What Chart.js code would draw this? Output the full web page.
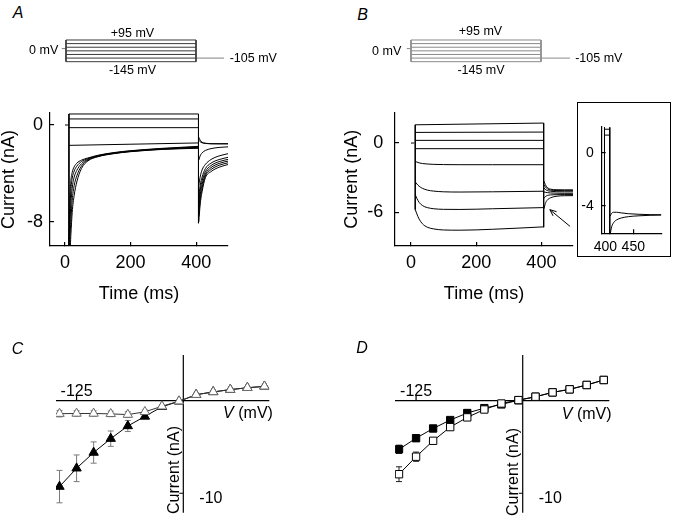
<!DOCTYPE html>
<html>
<head>
<meta charset="utf-8">
<script src="https://cdn.jsdelivr.net/npm/chart.js@4.4.1/dist/chart.umd.min.js"></script>
<style>
  html, body { margin: 0; padding: 0; background: #fff; }
  #fig { position: relative; width: 674px; height: 527px; overflow: hidden;
         font-family: "Liberation Sans", Arial, Helvetica, sans-serif; color: #000; }
  #fig canvas { position: absolute; }
  .lbl { position: absolute; white-space: nowrap; line-height: 1; transform: translate(-50%, -50%); z-index: 3; }
  .letter { font-style: italic; font-size: 16px; }
  .proto { font-size: 12.5px; }
  .iv { font-size: 16px; }
  .rot { transform: translate(-50%, -50%) rotate(-90deg); }
  #insetBox { position: absolute; left: 577px; top: 102px; width: 94px; height: 155px;
              box-sizing: border-box; border: 1px solid #000; }
</style>
</head>
<body>
<div id="fig">
  <div class="lbl letter" style="left:18px;top:12.8px">A</div>
  <div class="lbl letter" style="left:362.5px;top:14.7px">B</div>
  <div class="lbl letter" style="left:17.5px;top:348.8px">C</div>
  <div class="lbl letter" style="left:362px;top:348px">D</div>

  <div class="lbl proto" style="left:132.5px;top:33px">+95 mV</div>
  <div class="lbl proto" style="left:132.5px;top:69.5px">-145 mV</div>
  <div class="lbl proto" style="left:43.7px;top:50px">0 mV</div>
  <div class="lbl proto" style="left:253.3px;top:58px">-105 mV</div>

  <div class="lbl proto" style="left:480.5px;top:31px">+95 mV</div>
  <div class="lbl proto" style="left:481px;top:69.5px">-145 mV</div>
  <div class="lbl proto" style="left:386.7px;top:51px">0 mV</div>
  <div class="lbl proto" style="left:598.8px;top:57.5px">-105 mV</div>

  <div class="lbl iv" style="left:248px;top:413px"><i>V</i> (mV)</div>
  <div class="lbl iv rot" style="left:173.7px;top:470px">Current (nA)</div>
  <div class="lbl iv" style="left:586.7px;top:413.5px"><i>V</i> (mV)</div>
  <div class="lbl iv rot" style="left:513.3px;top:471.7px">Current (nA)</div>

  <div id="insetBox"></div>
</div>
<script>
(function () {
  'use strict';

  // ---- voltage protocol (mV / ms) ----
  const protoLevels = [-145, -105, -65, -25, 15, 55, 95];
  const protoStep = [0, 400];
  const protoHold = -105;
  const protoHoldEndA = 486;
  const protoHoldEndB = 489;
  const protoZeroTick = [-13, 0];

  // ---- panel A traces (ms / nA) ----
  const aTicksX = [0, 200, 400];
  const aTicksY = [0, -8];
  const aHoldT = [0, 9];
  const aHoldI = [0, 0];
  const aEdgeT = [12, 407];
  const aEdgeTop = [0.91, 0.91];
  const aEdgeBottom = [-10.5, -8.1];
  const aFlatT = [12, 407];
  const aFlat = [
    [0.91, 0.91],
    [0.5, 0.5],
    [-0.22, -0.22],
    [-1.68, -1.48],
  ];
  const aStepT = [12, 15, 18, 22, 28, 36, 50, 70, 100, 150, 200, 300, 407];
  const aDecay = [
    [-10.5, -6.0, -4.6, -3.9, -3.45, -3.15, -2.9, -2.72, -2.5, -2.27, -2.12, -1.92, -1.76],
    [-10.5, -7.0, -5.4, -4.4, -3.8, -3.4, -3.02, -2.78, -2.53, -2.3, -2.14, -1.95, -1.8],
    [-10.5, -8.2, -6.5, -5.2, -4.3, -3.75, -3.2, -2.84, -2.56, -2.32, -2.16, -1.97, -1.84],
    [-10.5, -9.4, -7.8, -6.2, -5.0, -4.2, -3.4, -2.9, -2.59, -2.34, -2.18, -1.99, -1.88],
    [-10.5, -10.5, -9.0, -7.2, -5.8, -4.7, -3.6, -2.96, -2.62, -2.36, -2.2, -2.01, -1.92],
  ];
  const aTailT = [408, 412, 418, 428, 445, 470, 500];
  const aTail = [
    [-1.0, -1.25, -1.42, -1.5, -1.54, -1.55, -1.55],
    [-1.25, -1.38, -1.47, -1.52, -1.55, -1.55, -1.55],
    [-2.9, -2.55, -2.3, -2.1, -1.95, -1.85, -1.8],
    [-5.0, -4.3, -3.7, -3.25, -2.85, -2.55, -2.35],
    [-6.0, -5.0, -4.3, -3.6, -3.15, -2.85, -2.65],
    [-6.5, -5.4, -4.6, -3.85, -3.35, -3.02, -2.82],
    [-7.0, -5.8, -4.9, -4.05, -3.52, -3.17, -2.96],
    [-7.5, -6.2, -5.2, -4.2, -3.68, -3.32, -3.1],
    [-8.0, -6.6, -5.5, -4.35, -3.85, -3.48, -3.24],
  ];

  // ---- panel B traces ----
  const bTicksX = [0, 200, 400];
  const bTicksY = [0, -6];
  const bHoldT = [0, 10];
  const bHoldI = [0, 0];
  const bEdgeT = [13, 407];
  const bEdgeTop = [1.58, 1.73];
  const bEdgeBottom = [-5.77, -7.3];
  const bFlatT = [13, 407];
  const bFlat = [
    [1.58, 1.73],
    [0.92, 0.95],
    [0.23, 0.23],
    [-0.49, -0.49],
  ];
  const bStepT = [13, 18, 25, 35, 50, 70, 100, 150, 250, 407];
  const bDecay = [
    [-1.59, -1.65, -1.72, -1.78, -1.82, -1.85, -1.87, -1.88, -1.88, -1.88],
    [-3.37, -3.55, -3.75, -3.93, -4.08, -4.17, -4.23, -4.25, -4.23, -4.18],
    [-4.47, -4.8, -5.15, -5.42, -5.6, -5.7, -5.75, -5.76, -5.7, -5.6],
    [-5.77, -6.15, -6.6, -7.0, -7.3, -7.45, -7.54, -7.56, -7.48, -7.27],
  ];
  const bTailT = [408, 412, 418, 428, 445, 470, 500];
  const bTail = [
    [-3.3, -3.6, -3.85, -4.0, -4.05, -4.06, -4.06],
    [-3.6, -3.8, -3.97, -4.08, -4.12, -4.13, -4.13],
    [-3.9, -4.02, -4.12, -4.18, -4.22, -4.23, -4.23],
    [-4.25, -4.27, -4.3, -4.33, -4.35, -4.36, -4.36],
    [-4.8, -4.65, -4.55, -4.5, -4.48, -4.47, -4.47],
    [-5.7, -5.25, -4.95, -4.75, -4.62, -4.57, -4.56],
  ];
  const bArrowTail = [488, -7.23];
  const bArrowTip = [426, -5.78];

  // ---- inset of B ----
  const iTicksX = [400, 450];
  const iTicksY = [0, -4];
  const iBarT = [390, 401];
  const iBarTop = [1.9, 1.9];
  const iBarBottom = [-6.1, -6.1];
  const iTopT = [390, 401];
  const iTop = [[1.76, 1.76], [1.32, 1.32]];
  const iTailT = [402, 405, 409, 415, 425, 440, 460, 485, 508];
  const iTail = [
    [-6.1, -5.55, -5.25, -5.05, -4.9, -4.8, -4.74, -4.7, -4.68],
    [-4.75, -4.55, -4.47, -4.47, -4.52, -4.58, -4.62, -4.65, -4.66],
  ];

  // ---- I-V curves (mV / nA) ----
  const ivV = [-145, -125, -105, -85, -65, -45, -25, -5, 15, 35, 55, 75, 95];
  const cTicksX = [-125];
  const cTicksY = [-10];
  const cFilled = [-9.28, -7.3, -5.6, -4.1, -2.73, -1.7, -0.65, -0.07, 0.65, 0.95, 1.2, 1.4, 1.55];
  const cFilledErr = [1.75, 1.44, 1.15, 0.83, 0.6, 0.2, 0.1, 0, 0, 0, 0, 0, 0];
  const cOpen = [-1.4, -1.38, -1.38, -1.42, -1.5, -1.2, -0.6, -0.05, 0.65, 0.95, 1.2, 1.4, 1.55];
  const cOpenErr = [0.35, 0.3, 0.3, 0.3, 0.3, 0.2, 0.1, 0, 0, 0, 0, 0, 0];
  const dFilled = [-5.25, -4.05, -3.0, -2.09, -1.33, -0.8, -0.4, 0.05, 0.43, 0.9, 1.23, 1.7, 2.24];
  const dFilledErr = [0.45, 0.3, 0.15, 0.1, 0.1, 0, 0, 0, 0, 0, 0, 0, 0];
  const dOpen = [-7.94, -6.05, -4.33, -2.85, -1.8, -0.95, -0.3, 0.07, 0.43, 0.9, 1.23, 1.7, 2.24];
  const dOpenErr = [0.8, 0.5, 0.2, 0.15, 0.1, 0, 0, 0, 0, 0, 0, 0, 0];

  const FONT = '"Liberation Sans", Arial, Helvetica, sans-serif';
  Chart.defaults.font.family = FONT;
  Chart.defaults.color = '#000';

  function canvasAt(left, top, w, h) {
    const c = document.createElement('canvas');
    c.width = w; c.height = h;
    c.style.left = left + 'px'; c.style.top = top + 'px';
    c.style.width = w + 'px'; c.style.height = h + 'px';
    document.getElementById('fig').appendChild(c);
    return c;
  }

  function pts(xs, ys) { return xs.map((x, i) => ({ x, y: ys[i] })); }

  function lines(xs, list, color, smooth) {
    return list.map(ys => ({
      data: pts(xs, ys), borderColor: color, borderWidth: 1, pointRadius: 0,
      cubicInterpolationMode: smooth ? 'monotone' : 'default', tension: 0,
    }));
  }

  function verticals(ts, tops, bottoms, color) {
    return ts.map((t, i) => ({
      data: [{ x: t, y: tops[i] }, { x: t, y: bottoms[i] }],
      borderColor: color, borderWidth: 1, pointRadius: 0,
    }));
  }

  function errorBars(xs, ys, errs, color) {
    return xs.map((x, i) => ({
      data: [{ x, y: ys[i] - errs[i] }, { x, y: ys[i] + errs[i] }],
      borderColor: color, borderWidth: 1, pointStyle: 'line', pointRadius: 3,
      pointBorderColor: color, pointBorderWidth: 1, order: 3,
    })).filter((d, i) => errs[i] > 0);
  }

  function markers(xs, ys, style, fill, edge, lineColor, r, order) {
    return {
      data: pts(xs, ys), borderColor: lineColor, borderWidth: 1,
      pointStyle: style, pointRadius: r, pointBackgroundColor: fill,
      pointBorderColor: edge, pointBorderWidth: 1, order,
    };
  }

  function baseOptions(pad, scales) {
    return {
      responsive: false, animation: false, devicePixelRatio: 1, events: [],
      layout: { padding: pad },
      plugins: { legend: { display: false }, tooltip: { enabled: false } },
      scales,
    };
  }

  function hiddenScales(xr, yr) {
    return {
      x: { type: 'linear', min: xr[0], max: xr[1], display: false },
      y: { type: 'linear', min: yr[0], max: yr[1], display: false },
    };
  }

  // box axes with inward ticks (A, B, inset)
  function sideAxes(o) {
    const grid = () => ({ drawOnChartArea: false, drawTicks: true, tickLength: -4, color: '#000', lineWidth: 1.2 });
    const border = () => ({ display: true, color: '#000', width: 1.2 });
    const title = (text, pad) => text
      ? { display: true, text, color: '#000', font: { size: 18 }, padding: pad }
      : { display: false };
    const xTicks = { font: { size: o.fs }, color: '#000', padding: o.xPad, maxRotation: 0, autoSkip: false };
    if (o.xLabel) xTicks.callback = o.xLabel;
    return {
      x: {
        type: 'linear', min: o.x[0], max: o.x[1], grid: grid(), border: border(),
        afterBuildTicks: s => { s.ticks = o.xTicks.map(v => ({ value: v })); },
        afterFit: s => { s.height = o.xh; s.paddingLeft = 0; s.paddingRight = 0; },
        ticks: xTicks,
        title: title(o.xTitle, { top: 0, bottom: o.xTitlePad }),
      },
      y: {
        type: 'linear', min: o.y[0], max: o.y[1], grid: grid(), border: border(),
        afterBuildTicks: s => { s.ticks = o.yTicks.map(v => ({ value: v })); },
        afterFit: s => { s.width = o.yw; s.paddingTop = 0; s.paddingBottom = 0; },
        ticks: { font: { size: o.fs }, color: '#000', padding: o.yPad, autoSkip: false },
        title: title(o.yTitle, { top: o.yTitlePad, bottom: 0 }),
      },
    };
  }

  // axes crossing at the origin (C, D)
  function crossAxes(xTicks, yTicks) {
    return {
      id: 'crossAxes',
      beforeDatasetsDraw(chart) {
        const { ctx, chartArea: a, scales: { x, y } } = chart;
        const x0 = x.getPixelForValue(0), y0 = y.getPixelForValue(0);
        ctx.save();
        ctx.strokeStyle = '#000'; ctx.lineWidth = 1.2;
        ctx.beginPath();
        ctx.moveTo(a.left, y0); ctx.lineTo(a.right, y0);
        ctx.moveTo(x0, a.top); ctx.lineTo(x0, a.bottom);
        xTicks.forEach(v => { const p = x.getPixelForValue(v); ctx.moveTo(p, y0); ctx.lineTo(p, y0 - 5); });
        yTicks.forEach(v => { const p = y.getPixelForValue(v); ctx.moveTo(x0, p); ctx.lineTo(x0 - 4, p); });
        ctx.stroke();
        ctx.fillStyle = '#000';
        ctx.font = '16px ' + FONT;
        ctx.textAlign = 'center'; ctx.textBaseline = 'alphabetic';
        xTicks.forEach(v => ctx.fillText(String(v), x.getPixelForValue(v), y0 - 5));
        ctx.textAlign = 'left'; ctx.textBaseline = 'middle';
        yTicks.forEach(v => ctx.fillText(String(v), x0 + 16, y.getPixelForValue(v) + 5));
        ctx.restore();
      },
    };
  }

  function arrow(tail, tip) {
    return {
      id: 'arrow',
      afterDatasetsDraw(chart) {
        const { ctx, scales: { x, y } } = chart;
        const x1 = x.getPixelForValue(tail[0]), y1 = y.getPixelForValue(tail[1]);
        const x2 = x.getPixelForValue(tip[0]), y2 = y.getPixelForValue(tip[1]);
        const ang = Math.atan2(y2 - y1, x2 - x1), h = 7;
        ctx.save();
        ctx.strokeStyle = '#000'; ctx.lineWidth = 1;
        ctx.beginPath();
        ctx.moveTo(x1, y1); ctx.lineTo(x2, y2);
        ctx.moveTo(x2 - h * Math.cos(ang - 0.4), y2 - h * Math.sin(ang - 0.4));
        ctx.lineTo(x2, y2);
        ctx.lineTo(x2 - h * Math.cos(ang + 0.4), y2 - h * Math.sin(ang + 0.4));
        ctx.stroke();
        ctx.restore();
      },
    };
  }

  function protocolSets(color, holdColor, holdEnd) {
    const lo = Math.min(...protoLevels), hi = Math.max(...protoLevels);
    return [
      ...lines(protoStep, protoLevels.map(v => [v, v]), color),
      ...verticals(protoStep, [hi, hi], [lo, lo], color),
      ...lines([protoStep[1], holdEnd], [[protoHold, protoHold]], holdColor),
      ...lines(protoZeroTick, [[0, 0]], holdColor),
    ];
  }

  // protocol A / B
  new Chart(canvasAt(60, 35, 170, 31), {
    type: 'line',
    data: { datasets: protocolSets('#3a3a3a', '#808080', protoHoldEndA) },
    options: baseOptions(0, hiddenScales([-18.46, 504.6], [-192.6, 150.3])),
  });
  new Chart(canvasAt(405, 35, 170, 31), {
    type: 'line',
    data: { datasets: protocolSets('#8a8a8a', '#8a8a8a', protoHoldEndB) },
    options: baseOptions(0, hiddenScales([-18.46, 504.6], [-192.6, 150.3])),
  });

  // A traces
  new Chart(canvasAt(0, 90, 240, 230), {
    type: 'line',
    data: { datasets: [
      ...lines(aHoldT, [aHoldI], '#000'),
      ...verticals(aEdgeT, aEdgeTop, aEdgeBottom, '#000'),
      ...lines(aFlatT, aFlat, '#000'),
      ...lines(aStepT, aDecay, '#000', true),
      ...lines(aTailT, aTail, '#000', true),
    ] },
    options: baseOptions({ left: 0, top: 23, right: 12, bottom: 0 }, sideAxes({
      x: [-45.7, 497], xTicks: aTicksX, y: [-9.98, 0.99], yTicks: aTicksY,
      xh: 74, yw: 50, fs: 18, xPad: 10.4, yPad: 11,
      xTitle: 'Time (ms)', xTitlePad: 15.2, yTitle: 'Current (nA)', yTitlePad: -1.3,
    })),
  });

  // B traces
  new Chart(canvasAt(340, 90, 240, 230), {
    type: 'line',
    data: { datasets: [
      ...lines(bHoldT, [bHoldI], '#000'),
      ...verticals(bEdgeT, bEdgeTop, bEdgeBottom, '#000'),
      ...lines(bFlatT, bFlat, '#000'),
      ...lines(bStepT, bDecay, '#000', true),
      ...lines(bTailT, bTail, '#000', true),
    ] },
    options: baseOptions({ left: 0, top: 22.7, right: 7, bottom: 0 }, sideAxes({
      x: [-49.1, 497], xTicks: bTicksX, y: [-8.93, 2.63], yTicks: bTicksY,
      xh: 74, yw: 55, fs: 18, xPad: 10.4, yPad: 15.7,
      xTitle: 'Time (ms)', xTitlePad: 15.2, yTitle: 'Current (nA)', yTitlePad: 1.7,
    })),
    plugins: [arrow(bArrowTail, bArrowTip)],
  });

  // inset (first label nudged left, as in the original, so the two don't touch)
  new Chart(canvasAt(578, 103, 92, 153), {
    type: 'line',
    data: { datasets: [
      ...verticals(iBarT, iBarTop, iBarBottom, '#000'),
      ...lines(iTopT, iTop, '#000'),
      ...lines(iTailT, iTail, '#000', true),
    ] },
    options: baseOptions({ left: 0, top: 23.7, right: 8, bottom: 0 }, sideAxes({
      x: [384.2, 509.8], xTicks: iTicksX, y: [-6.05, 1.95], yTicks: iTicksY,
      xh: 22.7, yw: 23.7, fs: 14, xPad: 9, yPad: 12,
      xLabel: v => (v === iTicksX[0] ? v + '\u00a0\u00a0' : String(v)),
    })),
  });

  // C
  new Chart(canvasAt(0, 330, 337, 197), {
    type: 'line',
    data: { datasets: [
      ...errorBars(ivV, cFilled, cFilledErr, '#7a7a7a'),
      ...errorBars(ivV, cOpen, cOpenErr, '#7a7a7a'),
      markers(ivV, cFilled, 'triangle', '#000', '#000', '#000', 5.4, 2),
      markers(ivV, cOpen, 'triangle', '#fff', '#6a6a6a', '#333', 5.4, 1),
    ] },
    options: baseOptions({ left: 56, top: 25, right: 67.7, bottom: 14.3 },
      hiddenScales([-149.1, 100.7], [-12.1, 4.94])),
    plugins: [crossAxes(cTicksX, cTicksY)],
  });

  // D
  new Chart(canvasAt(340, 330, 334, 197), {
    type: 'line',
    data: { datasets: [
      ...errorBars(ivV, dFilled, dFilledErr, '#222'),
      ...errorBars(ivV, dOpen, dOpenErr, '#222'),
      markers(ivV, dFilled, 'rect', '#000', '#000', '#000', 5.2, 2),
      markers(ivV, dOpen, 'rect', '#fff', '#000', '#000', 5.2, 1),
    ] },
    options: baseOptions({ left: 55, top: 25, right: 64.7, bottom: 14.3 },
      hiddenScales([-149.7, 101.5], [-12.1, 4.94])),
    plugins: [crossAxes(cTicksX, cTicksY)],
  });
})();
</script>
</body>
</html>
